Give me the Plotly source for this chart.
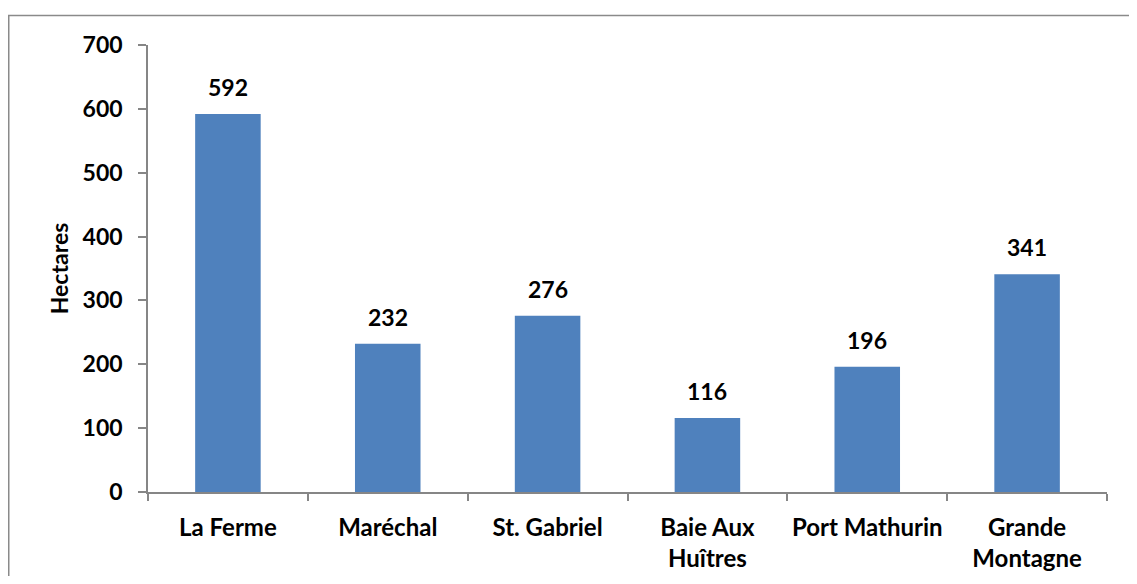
import plotly.graph_objects as go

categories = ["La Ferme", "Maréchal", "St. Gabriel", "Baie Aux<br>Huîtres", "Port Mathurin", "Grande<br>Montagne"]
hectares = [592, 232, 276, 116, 196, 341]
y_ticks = [0, 100, 200, 300, 400, 500, 600, 700]

FONT = "Lato"
BAR = "#4F81BD"
AXIS = "#868686"

# page body has an 8px margin; figure sized to fit the window
W, H = 1121, 568
L, R, T, B = 140, 22, 37, 84
pw, ph = W - L - R, H - T - B

fig = go.Figure(go.Bar(
    x=categories, y=hectares, marker=dict(color=BAR, line=dict(width=0)),
    width=0.41, hoverinfo="skip",
))

for c, v in zip(categories, hectares):
    fig.add_annotation(x=c, y=v, text=f"<b>{v}</b>", showarrow=False,
                       yanchor="bottom", yshift=11,
                       font=dict(family=FONT, size=23, color="#000"))

fig.update_layout(
    width=W, height=H,
    margin=dict(l=L, r=R, t=T, b=B, autoexpand=False),
    paper_bgcolor="white", plot_bgcolor="white",
    showlegend=False,
    font=dict(family=FONT, color="#000"),
    bargap=0.6,
)
fig.update_yaxes(
    range=[0, 700], tickvals=y_ticks, ticktext=[f"<b>{t}</b>" for t in y_ticks],
    showgrid=False, zeroline=False, showline=True, linecolor=AXIS, linewidth=1.5,
    ticks="outside", ticklen=8, tickcolor=AXIS, tickwidth=1.5,
    tickfont=dict(family=FONT, size=23, color="#000"), ticklabelstandoff=11,
    title=dict(text="<b>Hectares</b>", font=dict(family=FONT, size=23, color="#000"), standoff=8),
    automargin=False,
)
fig.update_xaxes(
    tickvals=categories, ticktext=[f"<b>{c}</b>" for c in categories],
    showgrid=False, showline=True, linecolor=AXIS, linewidth=1.5,
    ticks="outside", tickson="boundaries", ticklen=7, tickcolor=AXIS, tickwidth=1.5,
    tickfont=dict(family=FONT, size=24, color="#000"), ticklabelstandoff=13,
    tickangle=0, automargin=False,
)

# chart-area border (extends past the right and bottom edges)
fig.add_shape(type="rect", xref="paper", yref="paper",
              x0=(0.75 - L) / pw, x1=(W + 30 - L) / pw,
              y0=-(B + 30) / ph, y1=1 + (T - 7.5) / ph,
              line=dict(color="#8a8a8a", width=1.5), layer="below")

fig.write_html("out.html")
